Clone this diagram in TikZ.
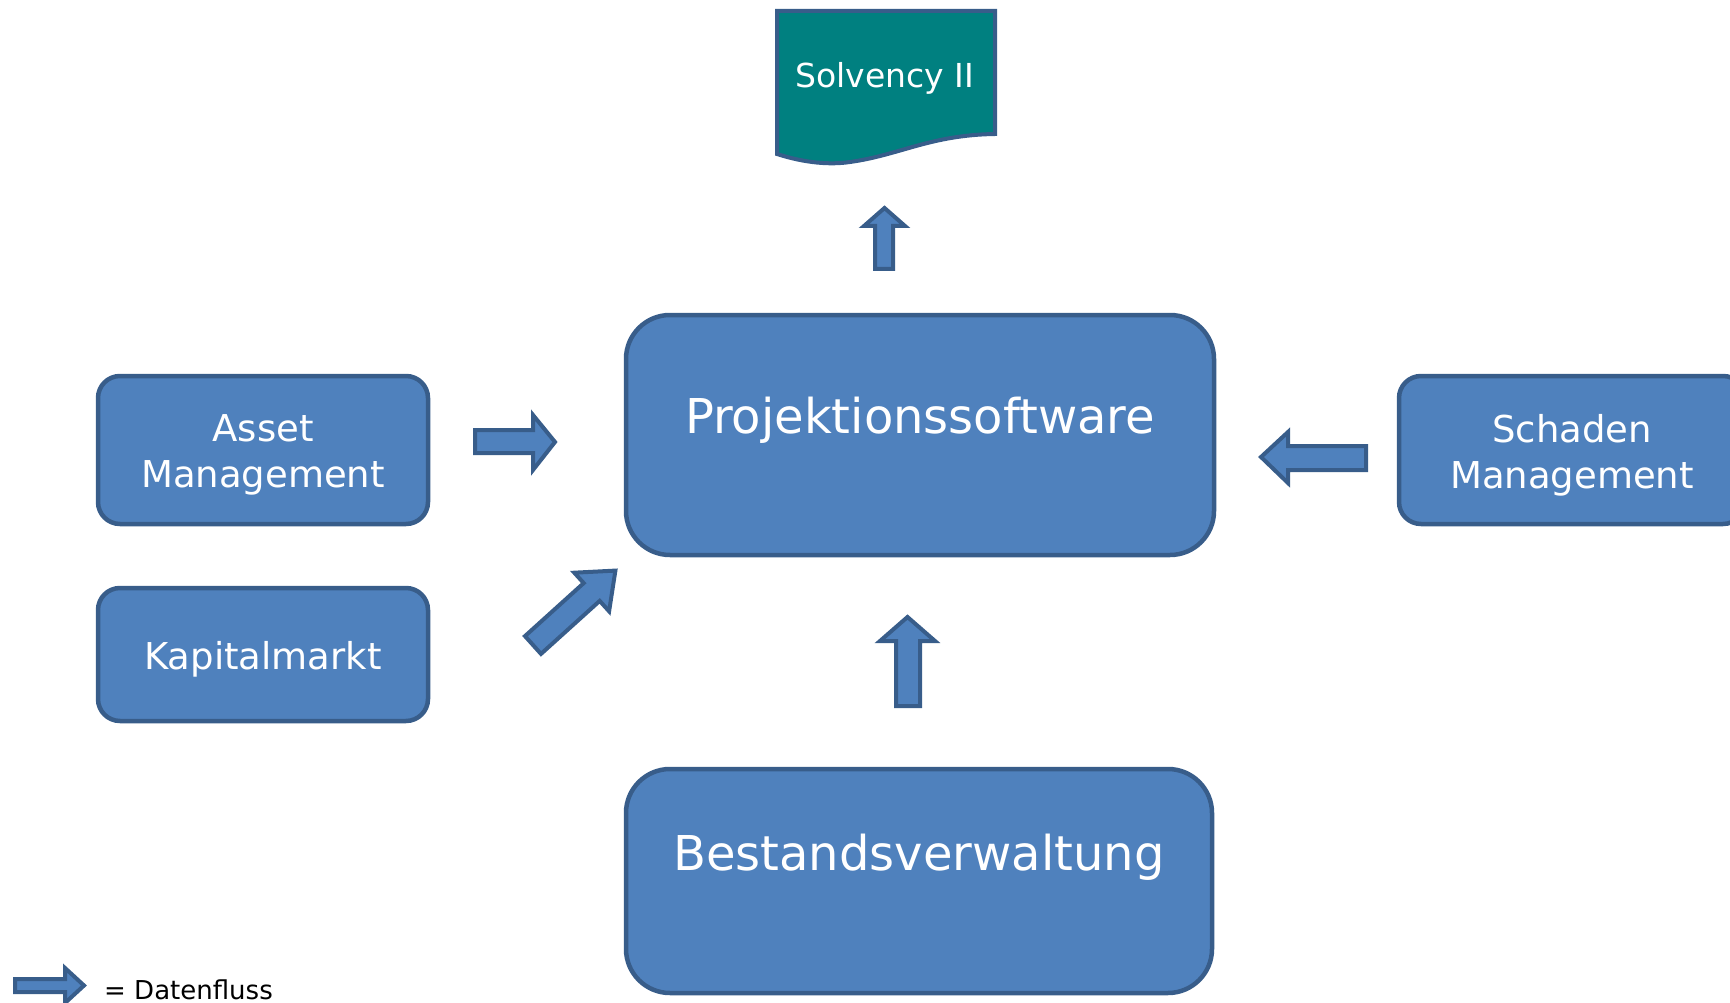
\documentclass[tikz,border=0pt]{standalone}
\usepackage{fontspec}
\setmainfont{DejaVu Sans}
\definecolor{boxfill}{HTML}{4F81BD}
\definecolor{boxline}{HTML}{385D8A}
\definecolor{docfill}{HTML}{008080}
\begin{document}
\begin{tikzpicture}[x=1pt,y=-1pt,
  sysbox/.style={draw=boxline, fill=boxfill, line width=4.5pt, rounded corners=#1, inner sep=0pt},
  bigtext/.style={text=white, font=\fontsize{48}{58}\selectfont},
  midtext/.style={text=white, align=center, font=\fontsize{37}{46}\selectfont},
  flow/.style={draw=boxline, fill=boxfill, line width=4pt, line join=miter}]
\useasboundingbox (0,0) rectangle (1730,1003);
\clip (0,0) rectangle (1730,1003);

% report document
\path[draw=boxline, fill=docfill, line width=4pt]
  (777,11) -- (995,11) -- (995,134)
  .. controls (930,135) and (900,155) .. (850,162)
  .. controls (830,165) and (805,163) .. (777,154) -- cycle;
\node[text=white, font=\fontsize{33}{40}\selectfont] (solv) at (885,78) {Solvency II};

% systems
\node[sysbox=44pt, minimum width=588pt, minimum height=240pt] (proj) at (920,435) {};
\node[bigtext] (projtext) at (920,420) {Projektionssoftware};

\node[sysbox=44pt, minimum width=586pt, minimum height=224pt] (best) at (919,881) {};
\node[bigtext] (besttext) at (919,857) {Bestandsverwaltung};

\node[sysbox=22pt, minimum width=330pt, minimum height=148pt] (asset) at (263,450) {};
\node[midtext] (assettext) at (263,455) {Asset\\Management};
\node[sysbox=22pt, minimum width=330pt, minimum height=133pt] (kap) at (263,654.5) {};
\node[midtext] (kaptext) at (263,659) {Kapitalmarkt};
\node[sysbox=22pt, minimum width=346pt, minimum height=148pt] (schad) at (1572,450) {};
\node[midtext] (schadtext) at (1572,455) {Schaden\\Management};

% data flows
\path[flow] (875,269) -- (875,226) -- (864,226) -- (884.5,208) -- (905,226) -- (893,226) -- (893,269) -- cycle;
\path[flow] (475,430) -- (533,430) -- (533,415) -- (555,442) -- (533,470) -- (533,453) -- (475,453) -- cycle;
\path[flow] (1366,446) -- (1288,446) -- (1288,432) -- (1261,457) -- (1288,483) -- (1288,470) -- (1366,470) -- cycle;
\path[flow] (896,706) -- (896,641) -- (880,641) -- (907.5,617) -- (935,641) -- (920,641) -- (920,706) -- cycle;
\path[flow] (541,653.9) -- (599.7,600.9) -- (609.1,611.3) -- (615.4,570.6) -- (574.3,572.7) -- (583.7,583.1) -- (525,636.1) -- cycle;

% legend
\path[flow] (15,979) -- (65,979) -- (65,968) -- (84,985.5) -- (65,1003) -- (65,992) -- (15,992) -- cycle;
\node[anchor=base west, inner sep=0pt, font=\fontsize{26}{30}\selectfont] (legend) at (104,999) {= Datenfluss};
\end{tikzpicture}
\end{document}
